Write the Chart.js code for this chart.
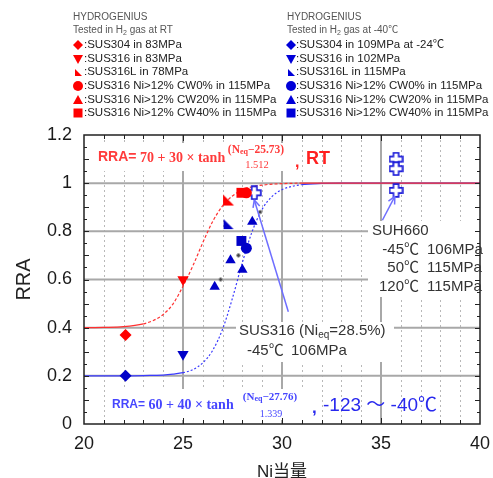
<!DOCTYPE html>
<html>
<head>
<meta charset="utf-8">
<script src="https://cdn.jsdelivr.net/npm/chart.js@4/dist/chart.umd.min.js"></script>
<style>
  html, body { margin: 0; padding: 0; background: #fff; }
  #wrap { width: 493px; height: 478px; }
</style>
</head>
<body>
<div id="wrap"><canvas id="c" width="493" height="478"></canvas></div>
<script>
// fitted tanh curves
const curveX  = [20, 21, 22, 23, 23.5, 24, 24.5, 25, 25.5, 26, 26.5, 27, 27.5, 28, 28.5, 29, 29.5, 30, 31, 32, 33, 40];
const rtCurve = [0.400, 0.401, 0.404, 0.416, 0.430, 0.455, 0.499, 0.572, 0.657, 0.753, 0.841, 0.906, 0.947, 0.972, 0.985, 0.992, 0.996, 0.998, 1.0, 1.0, 1.0, 1.0];
const ltCurve = [0.200, 0.200, 0.200, 0.201, 0.202, 0.203, 0.207, 0.213, 0.226, 0.254, 0.306, 0.394, 0.523, 0.671, 0.801, 0.892, 0.945, 0.973, 0.994, 0.999, 1.0, 1.0];

// measured points [Ni eq, RRA]  -- RT (red)
const rtSus304  = [[22.1, 0.37]];
const rtSus316  = [[25.0, 0.60]];
const rtSus316L = [[27.3, 0.93]];
const rtCw0     = [[28.2, 0.96]];
const rtCw40    = [[27.95, 0.96]];
// -40C and below (blue)
const ltSus304  = [[22.1, 0.20]];
const ltSus316  = [[25.0, 0.29]];
const ltSus316L = [[27.3, 0.83]];
const ltCw0     = [[28.2, 0.73]];
const ltCw20    = [[26.6, 0.57], [27.4, 0.68], [28.0, 0.64], [28.5, 0.84]];
const ltCw40    = [[27.95, 0.76]];
const suh660    = [[35.76, 1.10], [35.76, 1.06], [35.76, 0.97]];
const sus316Ni285 = [[28.6, 0.96]];
const fitDots   = [[26.9, 0.60], [27.8, 0.70], [28.9, 0.88]];

// axis ticks
const xTicksMajor = [25, 30, 35];
const yTicksMajor = [0.2, 0.4, 0.6, 0.8, 1.0];

// legend texts
const legendShapes = ['diamond', 'down', 'corner', 'circle', 'up', 'square'];
const rtLegend = ['SUS304 in 83MPa', 'SUS316 in 83MPa', 'SUS316L in 78MPa',
  'SUS316 Ni>12% CW0% in 115MPa', 'SUS316 Ni>12% CW20% in 115MPa', 'SUS316 Ni>12% CW40% in 115MPa'];
const ltLegend = ['SUS304 in 109MPa at -24\u2103', 'SUS316 in 102MPa', 'SUS316L in 115MPa',
  'SUS316 Ni>12% CW0% in 115MPa', 'SUS316 Ni>12% CW20% in 115MPa', 'SUS316 Ni>12% CW40% in 115MPa'];

// annotation arrows (data coords: tail, tip)
const arrowSus316 = [[30.32, 0.466], [28.6, 0.93]];
const arrowSuh660 = [[35.07, 0.846], [35.7, 0.945]];

const SANS = '"Liberation Sans", Arial, "Noto Sans CJK JP", sans-serif';
const SERIF = '"Liberation Serif", "DejaVu Serif", serif';
const RED = '#ff0000', BLUE = '#0000c8';

function plusImg(color) {
  const c = document.createElement('canvas');
  c.width = 15; c.height = 15;
  const g = c.getContext('2d');
  const a = 2.6, b = 6.4, o = 7.5;
  const p = [[-a,-b],[a,-b],[a,-a],[b,-a],[b,a],[a,a],[a,b],[-a,b],[-a,a],[-b,a],[-b,-a],[-a,-a]];
  g.beginPath();
  p.forEach((q, i) => i ? g.lineTo(o + q[0], o + q[1]) : g.moveTo(o + q[0], o + q[1]));
  g.closePath();
  g.fillStyle = '#fff'; g.fill();
  g.lineWidth = 1.6; g.strokeStyle = color; g.stroke();
  return c;
}
function cornerImg(color, s) {
  const c = document.createElement('canvas');
  c.width = s; c.height = s;
  const g = c.getContext('2d');
  g.beginPath(); g.moveTo(1, 1); g.lineTo(1, s - 1); g.lineTo(s - 1, s - 1); g.closePath();
  g.fillStyle = color; g.fill();
  return c;
}

function pts(a) { return a.map(p => ({ x: p[0], y: p[1] })); }
function marks(data, style, color, r, rot) {
  return { data: pts(data), showLine: false, pointStyle: style, pointRadius: r, pointHoverRadius: r,
    rotation: rot || 0, backgroundColor: color, borderColor: color, borderWidth: 0, order: 1 };
}
function curve(vals, color, dash, from, to) {
  return { data: curveX.map((x, i) => ({ x: x, y: vals[i] })), showLine: true, pointRadius: 0,
    borderColor: color, borderWidth: 1.2, cubicInterpolationMode: 'monotone', order: 5,
    segment: { borderDash: c => (c.p0.parsed.x >= from && c.p1.parsed.x <= to) ? dash : undefined } };
}

function seg(ctx, x1, y1, x2, y2) { ctx.beginPath(); ctx.moveTo(x1, y1); ctx.lineTo(x2, y2); ctx.stroke(); }
function txt(ctx, s, x, y, font, color, align) {
  ctx.font = font; ctx.fillStyle = color; ctx.textAlign = align || 'left'; ctx.textBaseline = 'middle';
  ctx.fillText(s, x, y);
  return ctx.measureText(s).width;
}
// runs: [text, font, dy]
function runsWidth(ctx, runs) { return runs.reduce((w, r) => { ctx.font = r[1]; return w + ctx.measureText(r[0]).width; }, 0); }
function runs(ctx, list, x, y, color) {
  list.forEach(r => { x += txt(ctx, r[0], x, y + (r[2] || 0), r[1], color); });
  return x;
}
function whiteBox(ctx, x, y, w, h) { ctx.fillStyle = '#fff'; ctx.fillRect(x, y, w, h); }
function shape(ctx, kind, cx, cy, color) {
  ctx.fillStyle = color; ctx.beginPath();
  if (kind === 'diamond') { ctx.moveTo(cx, cy - 5); ctx.lineTo(cx + 5, cy); ctx.lineTo(cx, cy + 5); ctx.lineTo(cx - 5, cy); }
  else if (kind === 'down') { ctx.moveTo(cx - 5, cy - 4); ctx.lineTo(cx + 5, cy - 4); ctx.lineTo(cx, cy + 5); }
  else if (kind === 'up') { ctx.moveTo(cx - 5, cy + 4); ctx.lineTo(cx + 5, cy + 4); ctx.lineTo(cx, cy - 5); }
  else if (kind === 'corner') { ctx.moveTo(cx - 3, cy - 3); ctx.lineTo(cx - 3, cy + 4); ctx.lineTo(cx + 4, cy + 4); }
  else if (kind === 'circle') { ctx.arc(cx, cy, 5, 0, Math.PI * 2); }
  else { ctx.rect(cx - 4.5, cy - 4.5, 9, 9); }
  ctx.closePath(); ctx.fill();
}
function arrow(ctx, x, y, pair, color) {
  const x1 = x.getPixelForValue(pair[0][0]), y1 = y.getPixelForValue(pair[0][1]);
  const x2 = x.getPixelForValue(pair[1][0]), y2 = y.getPixelForValue(pair[1][1]);
  ctx.strokeStyle = color; ctx.lineWidth = 1.5;
  seg(ctx, x1, y1, x2, y2);
  const ang = Math.atan2(y1 - y2, x1 - x2);
  [0.45, -0.45].forEach(d => seg(ctx, x2, y2, x2 + 8 * Math.cos(ang + d), y2 + 8 * Math.sin(ang + d)));
}

const figPlugin = {
  id: 'fig',
  beforeDatasetsDraw(chart) {
    const { ctx, chartArea: a, scales: { x, y } } = chart;
    ctx.save();
    // minor dotted verticals
    ctx.strokeStyle = '#b8b8b8'; ctx.lineWidth = 1; ctx.setLineDash([2, 3]);
    for (let v = 21; v < 40; v++) {
      if (v % 5 === 0) continue;
      const px = Math.round(x.getPixelForValue(v)) + 0.5;
      seg(ctx, px, a.top, px, a.bottom);
    }
    ctx.setLineDash([]);
    ctx.strokeStyle = '#a8a8a8'; ctx.lineWidth = 2;
    xTicksMajor.forEach(v => { const px = x.getPixelForValue(v); seg(ctx, px, a.top, px, a.bottom); });
    yTicksMajor.forEach(v => { const py = y.getPixelForValue(v); seg(ctx, a.left, py, a.right, py); });

    // white boxes behind formulas and notes
    whiteBox(ctx, 95, 143, 197, 28);
    whiteBox(ctx, 108, 389, 196, 31);
    whiteBox(ctx, 368, 221, 114, 76);
    whiteBox(ctx, 236, 322, 158, 40);
    ctx.restore();
  },
  afterDatasetsDraw(chart) {
    const { ctx, chartArea: a, scales: { x, y } } = chart;
    ctx.save();
    // frame and inward ticks
    ctx.strokeStyle = '#222'; ctx.lineWidth = 1;
    for (let v = 21; v < 40; v++) {
      const px = Math.round(x.getPixelForValue(v)) + 0.5, len = v % 5 ? 4 : 6;
      seg(ctx, px, a.bottom, px, a.bottom - len);
      seg(ctx, px, a.top, px, a.top + len);
    }
    for (let k = 1; k < 24; k++) {
      const py = Math.round(y.getPixelForValue(k * 0.05)) + 0.5, len = k % 2 ? 3 : 5;
      seg(ctx, a.left, py, a.left + len, py);
      seg(ctx, a.right, py, a.right - len, py);
    }
    ctx.lineWidth = 1.5;
    ctx.strokeRect(a.left, a.top, a.right - a.left, a.bottom - a.top);

    // arrows
    arrow(ctx, x, y, arrowSus316, '#6e6eff');
    arrow(ctx, x, y, arrowSuh660, '#6e6eff');

    // RT formula
    const rc = '#ff3b3b';
    let ex = txt(ctx, 'RRA=', 98, 157, 'bold 14px ' + SANS, rc);
    ex = 98 + ex;
    ex += txt(ctx, ' 70 + 30 \u00d7 tanh', ex, 158, 'bold 14px ' + SERIF, rc);
    let num = [['(N', 'bold 11.5px ' + SERIF, 0], ['eq', 'bold 8px ' + SERIF, 2], ['\u221225.73)', 'bold 11.5px ' + SERIF, 0]];
    let w = runsWidth(ctx, num);
    runs(ctx, num, 256 - w / 2, 150, rc);
    txt(ctx, '1.512', 257, 165, '10.5px ' + SERIF, rc, 'center');
    txt(ctx, ',', 295, 163, 'bold 16px ' + SANS, '#ff2020');
    txt(ctx, 'RT', 306, 159, 'bold 18px ' + SANS, '#ff2020');

    // low temperature formula
    const bc = '#4646ff';
    ex = 112 + txt(ctx, 'RRA=', 112, 405, 'bold 12px ' + SANS, bc);
    txt(ctx, ' 60 + 40 \u00d7 tanh', ex, 405, 'bold 14px ' + SERIF, bc);
    num = [['(N', 'bold 11px ' + SERIF, 0], ['eq', 'bold 8px ' + SERIF, 2], ['\u221227.76)', 'bold 11px ' + SERIF, 0]];
    w = runsWidth(ctx, num);
    runs(ctx, num, 270 - w / 2, 397, bc);
    txt(ctx, '1.339', 271, 414, '10px ' + SERIF, bc, 'center');
    txt(ctx, ',', 312, 408, 'bold 17px ' + SANS, '#2828ee');
    txt(ctx, '-123 \uff5e -40\u2103', 323, 406, '19px ' + SANS, '#2828ee');

    // SUH660 note
    const gc = '#333';
    const f15 = '15px ' + SANS;
    txt(ctx, 'SUH660', 372, 231, f15, gc);
    [['-45\u2103', '106MPa', 250], ['50\u2103', '115MPa', 268], ['120\u2103', '115MPa', 287]].forEach(r => {
      txt(ctx, r[0], 419, r[2], f15, gc, 'right');
      txt(ctx, r[1], 427, r[2], f15, gc);
    });
    // SUS316 note
    runs(ctx, [['SUS316 (Ni', f15, 0], ['eq', '10px ' + SANS, 4], ['=28.5%)', f15, 0]], 239, 331, gc);
    txt(ctx, '-45\u2103', 247, 351, f15, gc);
    txt(ctx, '106MPa', 291, 351, f15, gc);

    // legends
    [[73, 78, 84, rtLegend, 'RT', RED], [287, 291, 296, ltLegend, '-40\u2103', '#0000d8']].forEach(L => {
      txt(ctx, 'HYDROGENIUS', L[0], 17, '10px ' + SANS, '#555');
      runs(ctx, [['Tested in H', '10px ' + SANS, 0], ['2', '7px ' + SANS, 3], [' gas at ' + L[4], '10px ' + SANS, 0]], L[0], 30, '#555');
      const ys = [45, 59, 72, 86, 100, 113];
      L[3].forEach((s, i) => {
        shape(ctx, legendShapes[i], L[1], ys[i], L[5]);
        txt(ctx, ':' + s, L[2], ys[i], '11.5px ' + SANS, '#222');
      });
    });
    ctx.restore();
  }
};

const cfg = {
  type: 'scatter',
  data: {
    datasets: [
      marks(rtSus304, 'rectRot', RED, 6),
      marks(rtSus316, 'triangle', RED, 6.5, 180),
      marks(rtSus316L, cornerImg(RED, 13), RED, 6),
      marks(rtCw40, 'rect', RED, 7),
      marks(rtCw0, 'circle', RED, 5.5),
      marks(ltSus304, 'rectRot', BLUE, 6),
      marks(ltSus316, 'triangle', BLUE, 6.5, 180),
      marks(ltSus316L, cornerImg(BLUE, 12), BLUE, 6),
      marks(ltCw40, 'rect', BLUE, 7),
      marks(ltCw0, 'circle', BLUE, 5.5),
      marks(ltCw20, 'triangle', BLUE, 6),
      marks(suh660, plusImg('#1a1ad8'), BLUE, 7),
      marks(sus316Ni285, plusImg('#1a1ad8'), BLUE, 7),
      Object.assign(marks(fitDots, 'circle', '#444', 1.8), { borderColor: '#999', borderWidth: 1 }),
      curve(rtCurve, '#ff3030', [3, 2], 23, 31),
      curve(ltCurve, '#3a3aff', [2, 2], 25, 31)
    ]
  },
  options: {
    responsive: false,
    animation: false,
    devicePixelRatio: 1,
    events: [],
    layout: { padding: { left: 0, right: 13, top: 135, bottom: 0 } },
    plugins: { legend: { display: false }, tooltip: { enabled: false } },
    scales: {
      x: {
        type: 'linear', min: 20, max: 40,
        grid: { display: false }, border: { display: false },
        ticks: { stepSize: 5, autoSkip: false, padding: 1, color: '#1a1a1a', font: { family: SANS, size: 18 } },
        title: { display: true, text: 'Ni当量', color: '#222', font: { family: SANS, size: 17, lineHeight: 1 }, padding: { top: 0, bottom: -3 } },
        afterFit(s) { s.height = 54; }
      },
      y: {
        min: 0, max: 1.2,
        grid: { display: false }, border: { display: false },
        ticks: { stepSize: 0.2, padding: 4, color: '#1a1a1a', font: { family: SANS, size: 18 },
          callback: v => String(Number(v.toFixed(1))) },
        title: { display: true, text: 'RRA', color: '#222', font: { family: SANS, size: 20, lineHeight: 1 }, padding: { top: 14, bottom: 0 } },
        afterFit(s) { s.width = 84; }
      }
    }
  },
  plugins: [figPlugin]
};

new Chart(document.getElementById('c'), cfg);
</script>
</body>
</html>
